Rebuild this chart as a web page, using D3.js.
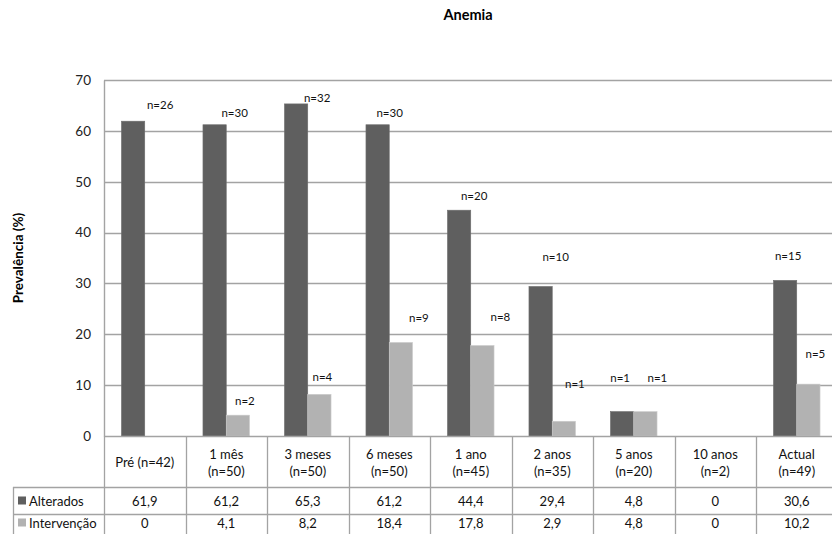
<!DOCTYPE html>
<html>
<head>
<meta charset="utf-8">
<script src="https://cdn.jsdelivr.net/npm/d3@7/dist/d3.min.js"></script>
<style>
  html, body { margin: 0; padding: 0; background: #fff; }
  svg { display: block; font-family: Lato, "Open Sans", sans-serif; }
</style>
</head>
<body>
<svg id="chart" width="832" height="534"></svg>
<script>
// Periods (two-line headers for the data table)
const categories = [
  ["Pré (n=42)"],
  ["1 mês", "(n=50)"],
  ["3 meses", "(n=50)"],
  ["6 meses", "(n=50)"],
  ["1 ano", "(n=45)"],
  ["2 anos", "(n=35)"],
  ["5 anos", "(n=20)"],
  ["10 anos", "(n=2)"],
  ["Actual", "(n=49)"]
];
const seriesNames = ["Alterados", "Intervenção"];
const alterados   = [61.9, 61.2, 65.3, 61.2, 44.4, 29.4, 4.8, 0, 30.6];
const intervencao = [0, 4.1, 8.2, 18.4, 17.8, 2.9, 4.8, 0, 10.2];
// Sample counts written above the bars (null = no label)
const nAlterados   = [26, 30, 32, 30, 20, 10, 1, null, 15];
const nIntervencao = [null, 2, 4, 9, 8, 1, 1, null, 5];
const yTicks = [0, 10, 20, 30, 40, 50, 60, 70];

// Hand-placed nudges of the count labels, relative to the bar top centre (px)
const nudgeAlterados = [[27,-16],[20,-12],[21,-6],[12,-12],[15,-14],[15,-30],[-2,-34],[0,0],[3,-24]];
const nudgeIntervencao = [[0,0],[7,-14],[3,-17],[18,-24],[18,-28],[11,-37],[12,-34],[0,0],[7,-30]];

const colors = ["#5f5f5f", "#b2b2b2"];
const gridColor = "#a3a3a3";

const svg = d3.select("#chart");
const plotLeft = 104, plotTop = 80, plotBottom = 436, band = 81.5;
const plotRight = plotLeft + band * categories.length;

const x = d3.scaleBand().domain(d3.range(categories.length)).range([plotLeft, plotRight]).padding(0);
const barW = band / 3.5;
const xs = d3.scaleBand().domain(seriesNames).range([barW * 0.75, band - barW * 0.75]).padding(0);
const y = d3.scaleLinear().domain([0, 70]).range([plotBottom, plotTop]);

// Title
svg.append("text").attr("x", 468).attr("y", 20).attr("text-anchor", "middle")
  .attr("font-size", 14.5).attr("font-weight", "bold").attr("fill", "#000").text("Anemia");

// Y axis title
svg.append("text").attr("transform", `translate(23,${(plotTop + plotBottom) / 2}) rotate(-90)`)
  .attr("text-anchor", "middle").attr("font-size", 13.5).attr("font-weight", "bold")
  .attr("fill", "#000").text("Prevalência (%)");

// Gridlines
svg.append("g").selectAll("line").data(yTicks.filter(d => d > 0)).join("line")
  .attr("x1", plotLeft).attr("x2", plotRight)
  .attr("y1", d => Math.round(y(d)) + 0.5).attr("y2", d => Math.round(y(d)) + 0.5)
  .attr("stroke", gridColor).attr("stroke-width", 1.5);

// Y axis with tick labels
const yAxis = svg.append("g").attr("transform", `translate(${plotLeft},0)`)
  .call(d3.axisLeft(y).tickValues(yTicks).tickSize(0).tickPadding(13));
yAxis.select(".domain").attr("stroke", gridColor).attr("stroke-width", 1.4);
yAxis.selectAll("text").attr("font-size", 13.5).attr("fill", "#222")
  .attr("font-family", "Lato, sans-serif");

// Bars
const seriesVals = [alterados, intervencao];
const seriesN = [nAlterados, nIntervencao];
const nudges = [nudgeAlterados, nudgeIntervencao];
seriesNames.forEach((s, si) => {
  svg.append("g").selectAll("rect").data(seriesVals[si]).join("rect")
    .attr("x", (d, i) => x(i) + xs(s))
    .attr("y", d => y(d))
    .attr("width", xs.bandwidth())
    .attr("height", d => y(0) - y(d))
    .attr("fill", colors[si])
    .attr("stroke", d3.color(colors[si]).brighter(0.4))
    .attr("stroke-width", 0.6);
});
// Count labels
seriesNames.forEach((s, si) => {
  const items = seriesN[si].map((n, i) => ({ n, i })).filter(d => d.n !== null);
  svg.append("g").selectAll("text").data(items).join("text")
    .attr("x", d => x(d.i) + xs(s) + xs.bandwidth() / 2 + nudges[si][d.i][0])
    .attr("y", d => y(seriesVals[si][d.i]) + nudges[si][d.i][1])
    .attr("dy", "0.35em").attr("text-anchor", "middle")
    .attr("font-size", 11.5).attr("fill", "#111")
    .text(d => "n=" + d.n);
});

// X axis line
svg.append("line").attr("x1", plotLeft).attr("x2", plotRight)
  .attr("y1", plotBottom + 0.5).attr("y2", plotBottom + 0.5)
  .attr("stroke", gridColor).attr("stroke-width", 1.4);

// Data table
const tableLeft = 13, rowHead = 487, row1 = 514, tableBottom = 545;
const tg = svg.append("g");
const lineAttr = sel => sel.attr("stroke", gridColor).attr("stroke-width", 1.3);
// vertical separators
tg.selectAll("line.v").data(d3.range(categories.length + 1)).join("line")
  .attr("class", "v")
  .attr("x1", i => Math.round(plotLeft + i * band) + 0.5).attr("x2", i => Math.round(plotLeft + i * band) + 0.5)
  .attr("y1", plotBottom).attr("y2", tableBottom).call(lineAttr);
tg.append("line").attr("x1", tableLeft + 0.5).attr("x2", tableLeft + 0.5)
  .attr("y1", rowHead).attr("y2", tableBottom).call(lineAttr);
[rowHead, row1].forEach(yy => {
  tg.append("line").attr("x1", tableLeft).attr("x2", plotRight)
    .attr("y1", yy + 0.5).attr("y2", yy + 0.5).call(lineAttr);
});

// header labels
categories.forEach((lines, i) => {
  const cx = x(i) + band / 2;
  const t = tg.append("text").attr("text-anchor", "middle").attr("font-size", 13).attr("fill", "#111");
  if (lines.length === 1) {
    t.attr("x", cx).attr("y", 462).attr("dy", "0.35em").text(lines[0]);
  } else {
    lines.forEach((l, k) => {
      t.append("tspan").attr("x", cx).attr("y", 454 + k * 17.5).attr("dy", "0.35em").text(l);
    });
  }
});

// value rows
const rowCenters = [501, 523];
seriesNames.forEach((s, si) => {
  tg.append("rect").attr("x", 18).attr("y", rowCenters[si] - 4.5).attr("width", 8).attr("height", 8)
    .attr("fill", colors[si]);
  tg.append("text").attr("x", 29).attr("y", rowCenters[si]).attr("dy", "0.35em")
    .attr("font-size", 13).attr("fill", "#111").text(s);
  tg.selectAll(null).data(seriesVals[si]).join("text")
    .attr("x", (d, i) => x(i) + band / 2).attr("y", rowCenters[si]).attr("dy", "0.35em")
    .attr("text-anchor", "middle").attr("font-size", 13).attr("fill", "#111")
    .text(d => d3.format(".1~f")(d).replace(".", ","));
});
</script>
</body>
</html>
